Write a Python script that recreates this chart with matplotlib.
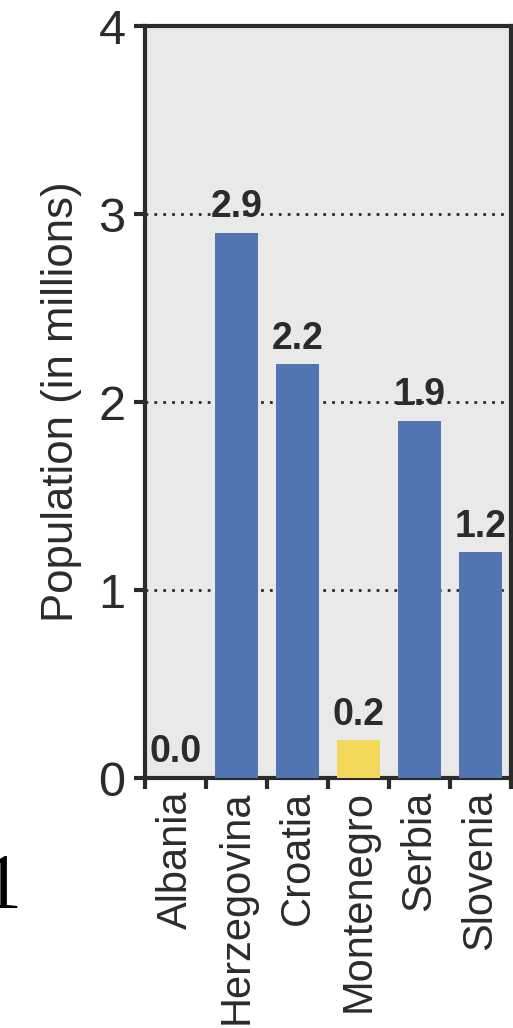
import matplotlib

matplotlib.use("Agg")
import matplotlib.pyplot as plt
from matplotlib import font_manager
import numpy as np

countries = ["Albania", "Herzegovina", "Croatia", "Montenegro", "Serbia", "Slovenia"]
population = [0.0, 2.9, 2.2, 0.2, 1.9, 1.2]
highlight = "Montenegro"
y_ticks = [0, 1, 2, 3, 4]

BLUE = "#5075b0"
YELLOW = "#f2d75b"
DARK = "#2b2b2b"

names = {f.name for f in font_manager.fontManager.ttflist}
narrow = "Liberation Sans Narrow" if "Liberation Sans Narrow" in names else "Liberation Sans"
plt.rcParams["font.family"] = [narrow, "DejaVu Sans"]

fig = plt.figure(figsize=(5.13, 10.28), dpi=100)
ax = fig.add_axes([145 / 513, 250 / 1028, 366 / 513, 752 / 1028])
ax.set_facecolor("#e9e9e9")

x = np.arange(len(countries))
colors = [YELLOW if c == highlight else BLUE for c in countries]
ax.bar(x, population, width=0.7, color=colors, zorder=3)

for xi, v in zip(x, population):
    ax.text(xi, v + 0.04, f"{v:.1f}", ha="center", va="bottom",
            fontsize=27, fontweight="bold", color=DARK, zorder=4)

ax.set_xlim(-0.5, len(countries) - 0.5)
ax.set_ylim(0, 4)
ax.set_yticks(y_ticks)
ax.set_yticklabels([str(t) for t in y_ticks], fontsize=35, color=DARK)

# ticks at category boundaries, labels at centers
ax.set_xticks(np.arange(len(countries) + 1) - 0.5)
ax.set_xticklabels([])
ax.set_xticks(x, minor=True)
ax.set_xticklabels(countries, minor=True, rotation=90, fontsize=30, color=DARK, va="top")
ax.tick_params(axis="x", which="minor", length=0, pad=9)
ax.tick_params(axis="x", which="major", length=8, width=3, color=DARK)
ax.tick_params(axis="y", length=8, width=3, color=DARK, pad=6)

for y in y_ticks[1:-1]:
    ax.axhline(y, color=DARK, linestyle=(0, (1, 2.2)), linewidth=2, zorder=2)

for s in ax.spines.values():
    s.set_color(DARK)
    s.set_linewidth(3)

ax.set_ylabel("Population (in millions)", fontsize=31.5, color=DARK, labelpad=12)

# stray glyph cut by the left edge, as in the source image
fig.text(-0.034, 0.118, "1", fontsize=56, family="Liberation Serif", color="black")

fig.savefig("out.png", dpi=100)
